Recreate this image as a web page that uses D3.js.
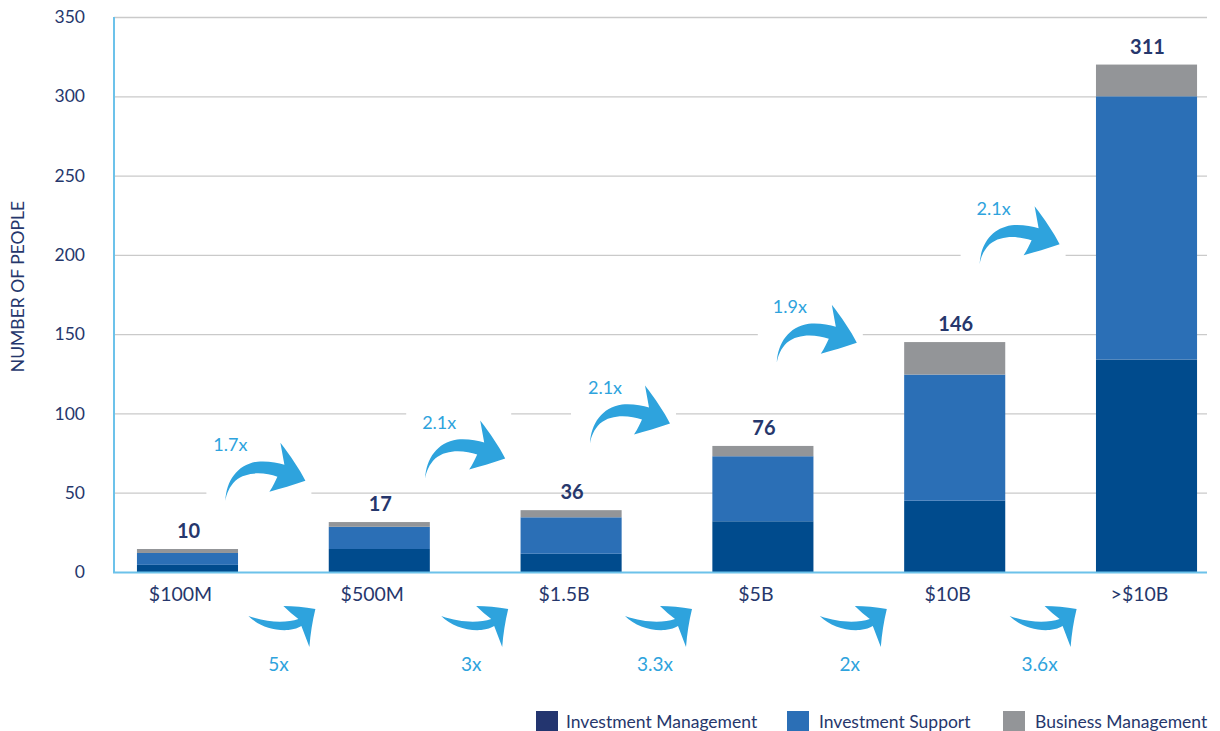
<!DOCTYPE html>
<html>
<head>
<meta charset="utf-8">
<script src="https://cdn.jsdelivr.net/npm/d3@7"></script>
<style>
  html, body { margin: 0; padding: 0; background: #ffffff; }
  svg { display: block; }
</style>
</head>
<body>
<svg id="chart" width="1220" height="731"></svg>
<script>
// ---------------- data ----------------
const categories = ["$100M", "$500M", "$1.5B", "$5B", "$10B", ">$10B"];
const seriesNames = ["Investment Management", "Investment Support", "Business Management"];
const investmentManagement = [4.5, 14.5, 11.5, 32, 45, 134];
const investmentSupport = [7.5, 14, 23, 41, 79.5, 166];
const businessManagement = [2.5, 3, 4.5, 6.5, 20.5, 20];
const totalLabels = ["10", "17", "36", "76", "146", "311"];
const upperStepLabels = ["1.7x", "2.1x", "2.1x", "1.9x", "2.1x"];
const lowerStepLabels = ["5x", "3x", "3.3x", "2x", "3.6x"];
const yTicks = [0, 50, 100, 150, 200, 250, 300, 350];
const yTitle = "NUMBER OF PEOPLE";

// ---------------- style / layout ----------------
const barColors = ["#004b8d", "#2b6fb6", "#939598"];
const legendColors = ["#23356f", "#2b6fb6", "#939598"];
const navy = "#26376c";
const arrowBlue = "#2ea3dd";
const axisBlue = "#6cc2ea";
const gridGrey = "#cacaca";
const FONT = "Lato, 'Open Sans', sans-serif";

const plotLeft = 114, plotRight = 1207, plotTop = 17, plotBottom = 572;
// annotation anchor offsets (pixels / value level of arrow tails)
const upperArrowLayout = [
  { dx: -58, level: 45, tdx: 5 },
  { dx: -50, level: 59, tdx: 14 },
  { dx: -77, level: 81, tdx: 15 },
  { dx: -82, level: 132, tdx: 13 },
  { dx: -71, level: 194, tdx: 14 }
];
const lowerArrowLayout = [-35, -34, -42, -39, -41];
const legendLayout = [
  { x: 536, tx: 566 },
  { x: 787, tx: 819 },
  { x: 1003, tx: 1035 }
];

// ---------------- build ----------------
const svg = d3.select("#chart");

const x = d3.scaleBand()
  .domain(categories)
  .range([117, 1217])
  .paddingInner(0.473)
  .paddingOuter(0.104);

const y = d3.scaleLinear().domain([0, 350]).range([plotBottom, plotTop]);

const rows = categories.map((c, i) => ({
  cat: c,
  [seriesNames[0]]: investmentManagement[i],
  [seriesNames[1]]: investmentSupport[i],
  [seriesNames[2]]: businessManagement[i]
}));
const stacked = d3.stack().keys(seriesNames)(rows);
const color = d3.scaleOrdinal().domain(seriesNames).range(barColors);

// gridlines + tick labels
const yAxis = d3.axisLeft(y)
  .tickValues(yTicks)
  .tickSize(-(plotRight - plotLeft))
  .tickPadding(29)
  .tickFormat(d3.format("d"));

const gy = svg.append("g")
  .attr("transform", `translate(${plotLeft},0)`)
  .call(yAxis);
gy.select(".domain").remove();
gy.selectAll(".tick line")
  .attr("stroke", gridGrey)
  .attr("stroke-width", 1.3)
  .attr("opacity", d => d === 0 ? 0 : 1);
gy.selectAll(".tick text")
  .attr("fill", navy)
  .attr("font-family", FONT)
  .attr("font-size", 17.5);

// y title
svg.append("text")
  .attr("transform", `translate(24, ${(200 + 373) / 2}) rotate(-90)`)
  .attr("text-anchor", "middle")
  .attr("fill", navy)
  .attr("font-family", FONT)
  .attr("font-size", 17.5)
  .text(yTitle);

// bars
svg.append("g")
  .selectAll("g")
  .data(stacked)
  .join("g")
  .attr("fill", d => color(d.key))
  .selectAll("rect")
  .data(d => d)
  .join("rect")
  .attr("x", d => x(d.data.cat))
  .attr("width", x.bandwidth())
  .attr("y", d => y(d[1]))
  .attr("height", d => y(d[0]) - y(d[1]));

// total labels
const totals = categories.map((c, i) => investmentManagement[i] + investmentSupport[i] + businessManagement[i]);
svg.append("g")
  .selectAll("text")
  .data(categories)
  .join("text")
  .attr("x", (c) => x(c) + x.bandwidth() / 2 + 1)
  .attr("y", (c, i) => y(totals[i]) - 11)
  .attr("text-anchor", "middle")
  .attr("fill", navy)
  .attr("font-family", FONT)
  .attr("font-weight", 700)
  .attr("font-size", 20)
  .text((c, i) => totalLabels[i]);

// axes lines
svg.append("line")
  .attr("x1", plotLeft).attr("x2", plotLeft)
  .attr("y1", plotTop).attr("y2", plotBottom + 1)
  .attr("stroke", axisBlue).attr("stroke-width", 2);
svg.append("line")
  .attr("x1", plotLeft - 1).attr("x2", plotRight)
  .attr("y1", plotBottom + 0.5).attr("y2", plotBottom + 0.5)
  .attr("stroke", axisBlue).attr("stroke-width", 2);

// category labels
const xAxis = d3.axisBottom(x).tickSize(0).tickPadding(15);
const gx = svg.append("g")
  .attr("transform", `translate(0,${plotBottom})`)
  .call(xAxis);
gx.select(".domain").remove();
gx.selectAll(".tick text")
  .attr("dx", -7)
  .attr("fill", navy)
  .attr("font-family", FONT)
  .attr("font-size", 19.5);

// arrows
const upperArrowPath = "M0,0 C1,-20 12,-36 32,-39 C42,-40 52,-38 59,-36 L55,-58 C65,-45 74,-32 80,-20 C68,-16 55,-12 44,-9 C48,-15 50,-20 52,-24 C40,-28 22,-30 10,-20 C4,-14 1,-7 0,0 Z";
const lowerArrowPath = "M0,0 C10,10 25,15 40,14 C46,13 50,12 53,10 L61,31 C62,18 64,5 67,-7 C56,-9 45,-10 35,-10 C40,-5 45,-1 50,3 C38,7 20,7 0,0 Z";

const mid = i => (x(categories[i]) + x(categories[i + 1])) / 2 + x.bandwidth() / 2;

const upper = svg.append("g");
upperStepLabels.forEach((lab, i) => {
  const L = upperArrowLayout[i];
  const tx = mid(i) + L.dx;
  const ty = y(L.level);
  const g = upper.append("g").attr("transform", `translate(${tx},${ty})`);
  g.append("rect")
    .attr("x", -19).attr("y", -72).attr("width", 105).attr("height", 76)
    .attr("fill", "#ffffff");
  g.append("path").attr("d", upperArrowPath).attr("fill", arrowBlue);
  g.append("text")
    .attr("x", L.tdx).attr("y", -56).attr("dy", "0.35em")
    .attr("text-anchor", "middle")
    .attr("fill", arrowBlue)
    .attr("font-family", FONT)
    .attr("font-size", 18)
    .text(lab);
});

const lower = svg.append("g");
lowerStepLabels.forEach((lab, i) => {
  const tx = mid(i) + lowerArrowLayout[i];
  const ty = plotBottom + 44;
  const g = lower.append("g").attr("transform", `translate(${tx},${ty})`);
  g.append("path").attr("d", lowerArrowPath).attr("fill", arrowBlue);
  g.append("text")
    .attr("x", 30).attr("y", 48).attr("dy", "0.35em")
    .attr("text-anchor", "middle")
    .attr("fill", arrowBlue)
    .attr("font-family", FONT)
    .attr("font-size", 19)
    .text(lab);
});

// legend
const lg = svg.append("g");
seriesNames.forEach((name, i) => {
  const L = legendLayout[i];
  lg.append("rect")
    .attr("x", L.x).attr("y", 711).attr("width", 22).attr("height", 21)
    .attr("fill", legendColors[i]);
  lg.append("text")
    .attr("x", L.tx).attr("y", 728)
    .attr("fill", navy)
    .attr("font-family", FONT)
    .attr("font-size", 17.5)
    .text(name);
});
</script>
</body>
</html>
